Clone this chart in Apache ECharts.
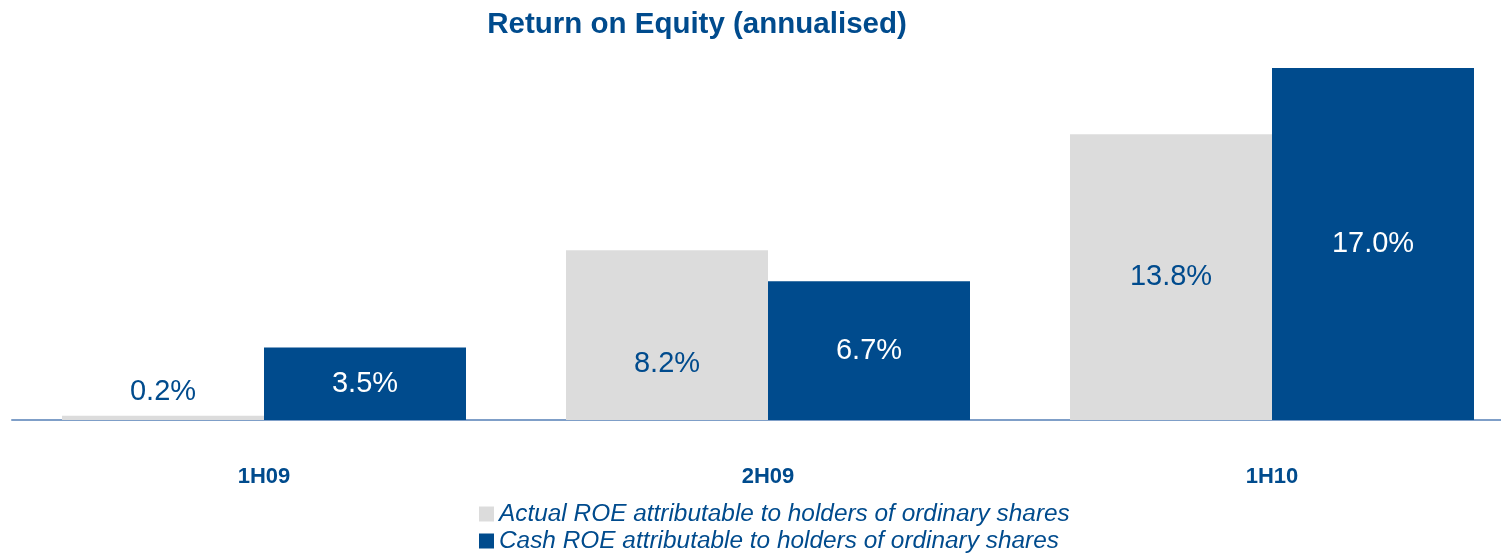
<!DOCTYPE html>
<html>
<head>
<meta charset="utf-8">
<script src="https://cdn.jsdelivr.net/npm/echarts@6/dist/echarts.min.js"></script>
<style>
	html, body { margin: 0; padding: 0; background: #fff; overflow: hidden; }
	/* plot area runs a little past the right edge in the original */
	#main { width: 1525px; height: 553px; }
</style>
</head>
<body>
<div id="main"></div>
<script>
// categories and series values
var categories = ['1H09', '2H09', '1H10']
var actualRoe = [0.2, 8.2, 13.8]
var cashRoe = [3.5, 6.7, 17.0]
var seriesNames = [
	'Actual ROE attributable to holders of ordinary shares',
	'Cash ROE attributable to holders of ordinary shares'
]

var blue = '#004b8d'
var grey = '#dcdcdc'
var font = 'Liberation Sans, Arial, sans-serif'

// label positions vary per bar in the original
function actualData () {
	return actualRoe.map(function (v, i) {
		var item = { value: v }
		if (i === 0) {
			item.label = { position: 'top', distance: 9 }
		} else if (i === 1) {
			item.label = { position: 'inside', offset: [0, 29] }
		}
		return item
	})
}

function legendItem (name, top) {
	return {
		left: 474,
		top: top,
		itemWidth: 15,
		itemHeight: 15,
		icon: 'rect',
		textStyle: { color: blue, fontSize: 24.4, fontStyle: 'italic', fontFamily: font },
		data: [name]
	}
}

var chart = echarts.init(document.getElementById('main'))
chart.setOption({
	animation: false,
	title: {
		text: 'Return on Equity (annualised)',
		left: 692,
		textAlign: 'center',
		top: 5,
		textStyle: { color: blue, fontSize: 29.5, fontWeight: 'bold', fontFamily: font }
	},
	legend: [
		legendItem(seriesNames[0], 497),
		legendItem(seriesNames[1], 524)
	],
	grid: {
		left: 12,
		right: 1,
		top: 68,
		bottom: 133,
		containLabel: false
	},
	xAxis: {
		type: 'category',
		data: categories,
		axisLine: { show: true, lineStyle: { color: '#7f9fc8', width: 2 } },
		axisTick: { show: false },
		axisLabel: {
			margin: 46,
			color: blue,
			fontSize: 22,
			fontWeight: 'bold',
			fontFamily: font
		}
	},
	yAxis: {
		type: 'value',
		min: 0,
		max: 17,
		show: false,
		splitLine: { show: false }
	},
	series: [
		{
			name: seriesNames[0],
			type: 'bar',
			barWidth: 202,
			barGap: '0%',
			itemStyle: { color: grey },
			label: {
				show: true,
				position: 'inside',
				color: blue,
				fontSize: 29,
				fontFamily: font,
				formatter: function (p) { return p.value.toFixed(1) + '%' }
			},
			data: actualData()
		},
		{
			name: seriesNames[1],
			type: 'bar',
			barWidth: 202,
			barGap: '0%',
			itemStyle: { color: blue },
			label: {
				show: true,
				position: 'inside',
				color: '#fff',
				fontSize: 29,
				fontFamily: font,
				formatter: function (p) { return p.value.toFixed(1) + '%' }
			},
			data: cashRoe
		}
	]
})
</script>
</body>
</html>
